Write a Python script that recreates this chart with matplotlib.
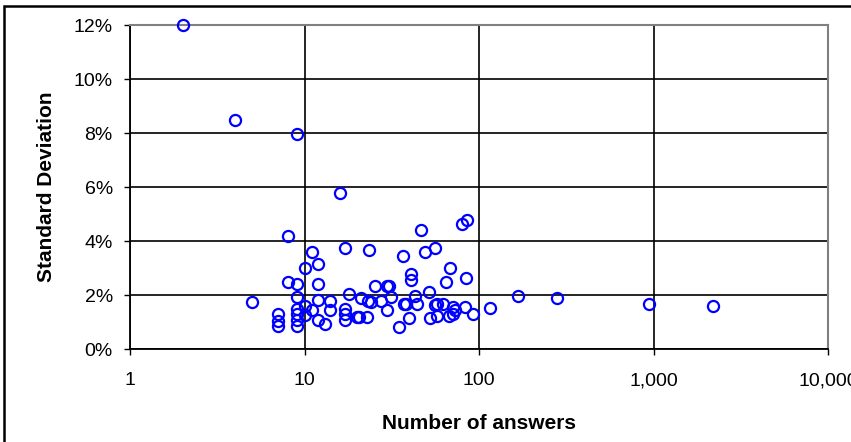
import matplotlib
matplotlib.use("Agg")
import matplotlib.pyplot as plt
from matplotlib.ticker import FuncFormatter, NullLocator, FixedLocator
from matplotlib.patches import Rectangle

plt.rcParams['font.family'] = ['Liberation Sans', 'DejaVu Sans']

# number of answers per question and standard deviation (%)
answers = [2, 4, 9, 16, 8, 5,
           7, 7, 7, 8, 9, 9, 9, 9, 9, 9,
           10, 10, 10, 11, 11, 12, 12, 12, 12, 13, 14, 14,
           17, 17, 17, 17, 18, 20, 20.6, 21, 22.7, 23, 23.5, 24, 25.4,
           27.4, 29.7, 30.5, 29.6, 31.2, 34.8, 36.6, 36.9, 38.1, 39.8,
           40.7, 40.7, 43, 44, 46.5, 49, 51.3, 52.5, 56, 56, 57, 57,
           62, 65, 67, 68, 71, 73, 71, 80, 85, 83.5, 84.5, 92,
           116, 167, 278, 936, 2183]
std_dev = [12.02, 8.48, 7.96, 5.80, 4.18, 1.74,
           1.30, 1.05, 0.86, 2.50, 2.41, 1.92, 1.48, 1.30, 1.09, 0.86,
           3.00, 1.61, 1.27, 3.59, 1.46, 3.17, 2.41, 1.83, 1.07, 0.93, 1.80, 1.46,
           3.75, 1.47, 1.30, 1.08, 2.05, 1.21, 1.21, 1.89, 1.21, 1.77, 3.66, 1.73, 2.34,
           1.77, 2.35, 2.35, 1.46, 1.95, 0.84, 3.46, 1.68, 1.68, 1.15,
           2.79, 2.57, 1.97, 1.68, 4.41, 3.60, 2.12, 1.15, 3.75, 1.63, 1.68, 1.22,
           1.68, 2.50, 1.24, 3.00, 1.58, 1.46, 1.30, 4.64, 4.77, 1.56, 2.64, 1.30,
           1.53, 1.96, 1.91, 1.68, 1.61]

y_ticks = [0, 2, 4, 6, 8, 10, 12]
x_ticks = [1, 10, 100, 1000, 10000]

fig = plt.figure(figsize=(8.51, 4.42), dpi=100)
ax = fig.add_axes([0.153, 0.210, 0.820, 0.733])

ax.set_xscale('log')
ax.set_xlim(1, 10000)
ax.set_ylim(0, 12)

ax.xaxis.set_major_locator(FixedLocator(x_ticks))
ax.xaxis.set_minor_locator(NullLocator())
ax.xaxis.set_major_formatter(FuncFormatter(lambda v, p: f"{int(round(v)):,}"))
ax.set_yticks(y_ticks)
ax.yaxis.set_major_formatter(FuncFormatter(lambda v, p: f"{int(v)}%"))

ax.grid(True, color='black', linewidth=1.2)
ax.set_axisbelow(True)

ax.plot(answers, std_dev, linestyle='none', marker='o', markersize=8,
        markerfacecolor='none', markeredgecolor='#0000FF', markeredgewidth=1.6,
        clip_on=False, zorder=3)

for side in ['top', 'right']:
    ax.spines[side].set_color('#808080')
    ax.spines[side].set_linewidth(1.5)
for side in ['left', 'bottom']:
    ax.spines[side].set_color('black')
    ax.spines[side].set_linewidth(1.3)

ax.tick_params(axis='both', direction='out', length=4.5, width=1, labelsize=14, colors='black')
ax.tick_params(axis='x', pad=12)
ax.tick_params(axis='y', pad=8)

ax.set_xlabel("Number of answers", fontsize=15, fontweight='bold', labelpad=18)
ax.set_ylabel("Standard Deviation", fontsize=15, fontweight='bold', labelpad=13)

# outer chart border
fig.patches.append(Rectangle((0.005, -0.05), 1.2, 1.036, transform=fig.transFigure,
                             fill=False, edgecolor='black', linewidth=1.8))

fig.savefig("out.png", dpi=100)
